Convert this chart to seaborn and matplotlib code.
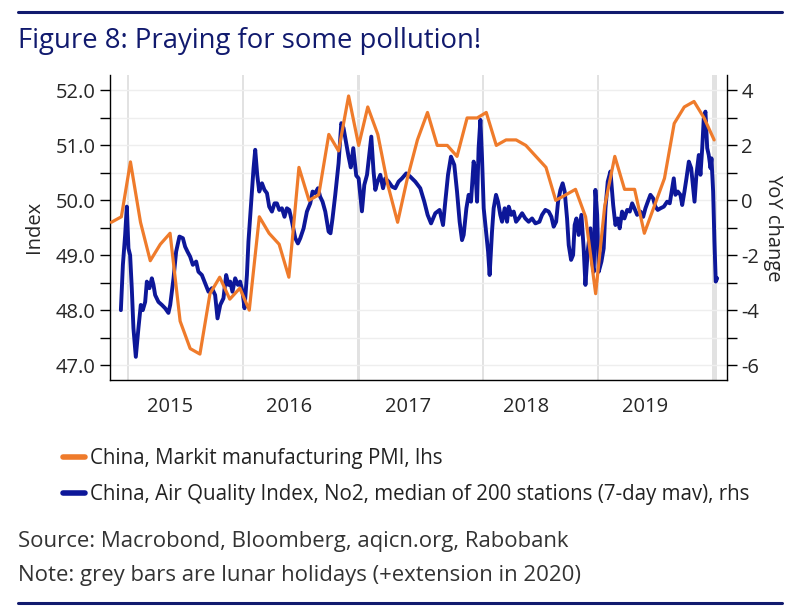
import numpy as np
import pandas as pd
import matplotlib
matplotlib.use("Agg")
import matplotlib.pyplot as plt
import matplotlib.dates as mdates
import matplotlib.ticker as mticker
from matplotlib.lines import Line2D
import seaborn as sns

# China Markit/Caixin manufacturing PMI, month-end values, Dec 2014 .. Jan 2020 (lhs)
pmi_first_month = "2014-12"
pmi_values = [49.6,
              49.7, 50.7, 49.6, 48.9, 49.2, 49.4, 47.8, 47.3, 47.2, 48.3, 48.6, 48.2,
              48.4, 48.0, 49.7, 49.4, 49.2, 48.6, 50.6, 50.0, 50.1, 51.2, 50.9, 51.9,
              51.0, 51.7, 51.2, 50.3, 49.6, 50.4, 51.1, 51.6, 51.0, 51.0, 50.8, 51.5,
              51.5, 51.6, 51.0, 51.1, 51.1, 51.0, 50.8, 50.6, 50.0, 50.1, 50.2, 49.7,
              48.3, 49.9, 50.8, 50.2, 50.2, 49.4, 49.9, 50.4, 51.4, 51.7, 51.8, 51.5,
              51.1]

# China AQI NO2, YoY change of 7-day mav (rhs); time as fractional year
aqi_year = [2015.078, 2015.095, 2015.114, 2015.128, 2015.142, 2015.156, 2015.170, 2015.184,
            2015.204, 2015.226, 2015.246, 2015.263, 2015.283, 2015.297, 2015.319, 2015.339,
            2015.353, 2015.367, 2015.395, 2015.424, 2015.451, 2015.479, 2015.494, 2015.522,
            2015.544, 2015.572, 2015.601, 2015.620, 2015.640, 2015.662, 2015.685, 2015.713,
            2015.732, 2015.761, 2015.789, 2015.817, 2015.846, 2015.873, 2015.893, 2015.916,
            2015.943, 2015.966, 2015.986, 2016.000, 2016.019, 2016.042, 2016.065, 2016.084,
            2016.104, 2016.121, 2016.141, 2016.154, 2016.177, 2016.197, 2016.211, 2016.228,
            2016.245, 2016.268, 2016.289, 2016.310, 2016.329, 2016.352, 2016.374, 2016.394,
            2016.414, 2016.436, 2016.458, 2016.478, 2016.498, 2016.521, 2016.549, 2016.571,
            2016.591, 2016.619, 2016.647, 2016.675, 2016.695, 2016.717, 2016.740, 2016.759,
            2016.779, 2016.802, 2016.830, 2016.846, 2016.863, 2016.886, 2016.914, 2016.937,
            2016.956, 2016.976, 2016.998, 2017.017, 2017.038, 2017.063, 2017.083, 2017.111,
            2017.131, 2017.154, 2017.173, 2017.190, 2017.209, 2017.224, 2017.243, 2017.266,
            2017.289, 2017.308, 2017.336, 2017.365, 2017.392, 2017.420, 2017.449, 2017.485,
            2017.519, 2017.561, 2017.603, 2017.637, 2017.665, 2017.694, 2017.730, 2017.766,
            2017.795, 2017.814, 2017.837, 2017.862, 2017.890, 2017.913, 2017.935, 2017.955,
            2017.969, 2017.992, 2018.011, 2018.031, 2018.053, 2018.068, 2018.082, 2018.095,
            2018.110, 2018.124, 2018.138, 2018.158, 2018.175, 2018.188, 2018.208, 2018.222,
            2018.242, 2018.259, 2018.278, 2018.293, 2018.315, 2018.335, 2018.349, 2018.371,
            2018.391, 2018.411, 2018.433, 2018.462, 2018.489, 2018.517, 2018.546, 2018.574,
            2018.608, 2018.630, 2018.658, 2018.686, 2018.709, 2018.728, 2018.749, 2018.765,
            2018.785, 2018.804, 2018.821, 2018.841, 2018.855, 2018.875, 2018.892, 2018.905,
            2018.920, 2018.939, 2018.962, 2018.981, 2018.996, 2019.015, 2019.038, 2019.052,
            2019.066, 2019.080, 2019.095, 2019.108, 2019.131, 2019.150, 2019.165, 2019.184,
            2019.207, 2019.230, 2019.249, 2019.268, 2019.285, 2019.305, 2019.325, 2019.348,
            2019.370, 2019.390, 2019.409, 2019.432, 2019.460, 2019.483, 2019.502, 2019.522,
            2019.544, 2019.567, 2019.586, 2019.606, 2019.629, 2019.657, 2019.685, 2019.707,
            2019.727, 2019.741, 2019.755, 2019.775, 2019.797, 2019.812, 2019.831, 2019.848,
            2019.868, 2019.888, 2019.905, 2019.916, 2019.932, 2019.952, 2019.966, 2019.981,
            2019.994, 2020.008, 2020.023, 2020.036, 2020.051, 2020.059, 2020.073, 2020.084,
            2020.095, 2020.107]
aqi_yoy = [-4.0, -2.35, -1.26, -0.23, -1.75, -2.0, -3.2, -4.66,
           -5.7, -4.66, -3.81, -4.0, -3.7, -2.96, -3.2, -2.84,
           -3.08, -3.45, -3.7, -3.81, -3.93, -4.1, -3.81, -2.84,
           -1.87, -1.32, -1.38, -1.69, -1.87, -2.05, -2.35, -2.23,
           -2.6, -2.72, -3.02, -3.33, -3.2, -3.45, -4.3, -3.81,
           -3.57, -2.72, -3.08, -2.96, -3.33, -2.84, -3.08, -2.96,
           -3.33, -3.93, -2.72, -1.5, -0.05, 1.17, 1.84, 0.92,
           0.32, 0.62, 0.38, 0.26, -0.23, -0.41, -0.11, -0.11,
           -0.35, -0.29, -0.6, -0.29, -0.35, -0.78, -1.38, -1.57,
           -1.38, -1.02, -0.41, -0.11, 0.32, 0.26, 0.44, 0.13,
           -0.05, -0.41, -1.14, -1.2, -0.66, 0.2, 1.35, 2.81,
           2.63, 2.14, 1.6, 1.2, 1.9, 0.9, 0.8, -0.4,
           0.56, 0.93, 1.65, 2.32, 1.05, 0.38, 0.68, 0.93,
           0.44, 0.80, 0.68, 0.5, 0.44, 0.68, 0.8, 0.98,
           0.86, 0.68, 0.44, -0.05, -0.53, -0.84, -0.47, -0.35,
           -0.9, -0.05, 0.93, 1.59, 1.29, 0.32, -0.78, -1.45,
           -1.26, -0.29, 0.2, -0.05, 1.41, 1.1, -0.05, 1.9,
           2.93, 1.53, -0.29, -1.14, -1.87, -2.72, -1.14, -0.29,
           0.2, -0.05, -0.53, -0.78, -0.29, -0.78, -0.23, -0.53,
           -0.41, -0.78, -0.66, -0.47, -0.66, -0.78, -0.66, -0.84,
           -0.78, -0.53, -0.35, -0.41, -0.6, -0.96, -0.78, -0.05,
           0.38, 0.62, 0.32, -0.66, -1.63, -2.17, -1.99, -0.9,
           -0.66, -1.26, -0.53, -1.75, -3.08, -1.87, -1.02, -2.23,
           -2.6, 0.38, -0.53, -2.6, -2.23, -1.75, -0.29, 0.68,
           1.05, -0.17, -0.9, -0.66, -1.02, -0.41, -0.66, -0.35,
           -0.41, -0.11, -0.29, -0.53, -0.41, -0.6, -0.29, -0.05,
           0.2, 0.07, -0.23, -0.35, -0.29, -0.23, -0.05, -0.11,
           0.44, 0.80, 0.2, 0.32, 0.2, -0.17, 0.32, 0.80,
           1.41, 1.17, 0.44, -0.05, 0.93, 1.65, 0.93, 1.9,
           2.99, 3.23, 1.9, 1.65, 1.17, 1.53, 0.32, -1.5,
           -2.96, -2.84]

# lunar new year holiday weeks (grey bars), 2020 incl. extension
holiday_start = ["2015-02-18", "2016-02-07", "2017-01-27", "2018-02-15", "2019-02-04", "2020-01-24"]
holiday_end = ["2015-02-25", "2016-02-14", "2017-02-03", "2018-02-22", "2019-02-11", "2020-02-09"]

pmi_label = "China, Markit manufacturing PMI, lhs"
aqi_label = "China, Air Quality Index, No2, median of 200 stations (7-day mav), rhs"
title = "Figure 8: Praying for some pollution!"
source = "Source: Macrobond, Bloomberg, aqicn.org, Rabobank"
note = "Note: grey bars are lunar holidays (+extension in 2020)"

orange = "#ef7b2b"
blue = "#0d1799"
navy = "#111a6e"

pmi = pd.DataFrame({
    "date": pd.date_range(pmi_first_month, periods=len(pmi_values), freq="MS") + pd.offsets.MonthEnd(0),
    "value": pmi_values,
})
aqi = pd.DataFrame({
    "date": pd.Timestamp("2015-01-01") + pd.to_timedelta((np.array(aqi_year) - 2015) * 365.25, unit="D"),
    "value": aqi_yoy,
})

sns.set_theme(style="white")
plt.rcParams["font.family"] = ["Open Sans", "DejaVu Sans"]
plt.rcParams["text.color"] = "#222222"

fig = plt.figure(figsize=(8, 6.13), dpi=100)
ax = fig.add_axes([0.1375, 0.38, 0.771, 0.498])
ax2 = ax.twinx()
ax.set_zorder(2)
ax2.set_zorder(1)
ax.patch.set_visible(False)

# grey bars + grid on the rhs axis, below the lines
for s, e in zip(holiday_start, holiday_end):
    ax2.axvspan(pd.Timestamp(s), pd.Timestamp(e), color="#e2e2e2", lw=0, zorder=0)
for v in range(-6, 5):
    ax2.axhline(v, color="#eeeeee", lw=1, zorder=0.5)

sns.lineplot(data=aqi, x="date", y="value", ax=ax2, color=blue, lw=2.8, zorder=3)
sns.lineplot(data=pmi, x="date", y="value", ax=ax, color=orange, lw=2.3, zorder=4)

ax.set_xlim(pd.Timestamp("2014-12-27"), pd.Timestamp("2020-03-10"))
ax.set_ylim(46.727, 52.286)
ax2.set_ylim(-6.546, 4.572)

ax.xaxis.set_major_locator(mdates.YearLocator())
ax.xaxis.set_major_formatter(mticker.NullFormatter())
ax.xaxis.set_minor_locator(mdates.MonthLocator(bymonth=7, bymonthday=1))
ax.xaxis.set_minor_formatter(mdates.DateFormatter("%Y"))
ax.tick_params(axis="x", which="major", length=8, width=1, color="black", direction="out")
ax.tick_params(axis="x", which="minor", length=0, labelsize=14.5, pad=12)

ax.yaxis.set_major_locator(mticker.MultipleLocator(1.0))
ax.yaxis.set_minor_locator(mticker.MultipleLocator(0.5))
ax.yaxis.set_major_formatter(mticker.FormatStrFormatter("%.1f"))
ax.tick_params(axis="y", which="both", length=7, width=1, color="black", direction="out", labelsize=14.5)

ax2.yaxis.set_major_locator(mticker.MultipleLocator(2))
ax2.yaxis.set_minor_locator(mticker.MultipleLocator(1))
ax2.yaxis.set_major_formatter(mticker.FormatStrFormatter("%d"))
ax2.tick_params(axis="y", which="both", length=7, width=1, color="black", direction="out", labelsize=14.5)

ax.set_xlabel("")
ax.set_ylabel("Index", fontsize=14.5, labelpad=8)
ax2.set_ylabel("YoY change", fontsize=14.5, rotation=270, labelpad=17)

for a in (ax, ax2):
    a.spines["top"].set_visible(False)
    for sp in a.spines.values():
        sp.set_color("black")
        sp.set_linewidth(1)
ax.spines["right"].set_visible(False)
ax2.spines["left"].set_visible(False)
ax2.spines["bottom"].set_visible(False)

handles = [Line2D([], [], color=orange, lw=4), Line2D([], [], color=blue, lw=4)]
fig.legend(handles, [pmi_label, aqi_label], loc="upper left",
           bbox_to_anchor=(0.069, 1 - 440 / 613), frameon=False, fontsize=14.8,
           handlelength=1.05, handletextpad=0.25, labelspacing=0.72, borderaxespad=0)

fig.text(18 / 800, 1 - 41 / 613, title, fontsize=19.8, color=navy, va="center", ha="left")
fig.text(18 / 800, 1 - 542 / 613, source, fontsize=15.9, color="#333333", va="center", ha="left")
fig.text(18 / 800, 1 - 575 / 613, note, fontsize=15.9, color="#333333", va="center", ha="left")

fig.add_artist(Line2D([18 / 800, 782 / 800], [1 - 11.5 / 613] * 2, color=navy, lw=2.2))
fig.add_artist(Line2D([18 / 800, 782 / 800], [1 - 603 / 613] * 2, color=navy, lw=2.2))

fig.savefig("out.png", dpi=100, facecolor="white")
